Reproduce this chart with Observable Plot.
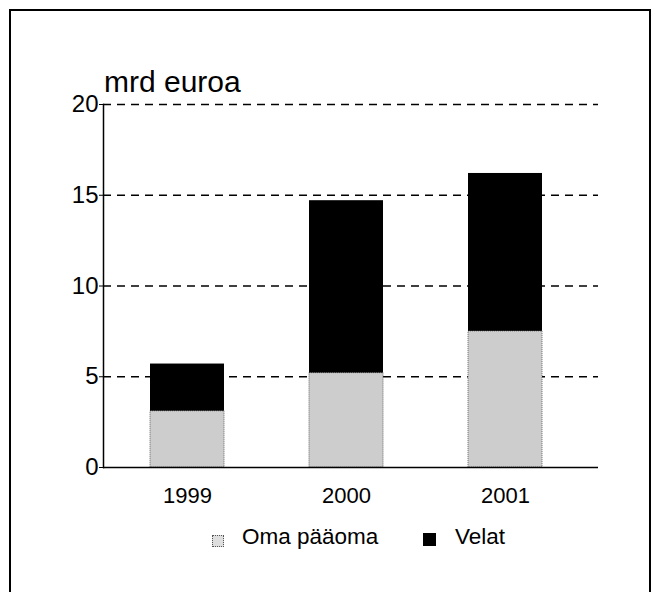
<!DOCTYPE html>
<html>
<head>
<meta charset="utf-8">
<script src="https://cdn.jsdelivr.net/npm/d3@7"></script>
<script src="https://cdn.jsdelivr.net/npm/@observablehq/plot@0.6"></script>
<style>
  html, body { margin: 0; padding: 0; background: #fff; }
  body { width: 655px; height: 592px; position: relative; overflow: hidden; font-family: "Liberation Sans", Arial, Helvetica, sans-serif; }
  #frame { position: absolute; left: 9px; top: 9px; width: 642px; height: 620px; border: 2px solid #000; box-sizing: border-box; }
  #chart { position: absolute; left: 0; top: 0; }
  .txt { position: absolute; white-space: nowrap; color: #000; line-height: 1; }
  .sw { position: absolute; box-sizing: border-box; }
</style>
</head>
<body>
<div id="frame"></div>
<div id="chart"></div>
<div class="txt" id="ylabel" style="left:104px; top:67px; font-size:30px;">mrd euroa</div>
<div class="sw" style="left:212px; top:535px; width:12px; height:12px; background:#dedede; border:1px dotted #555;"></div>
<div class="txt" style="left:242px; top:526px; font-size:22.5px;">Oma pääoma</div>
<div class="sw" style="left:423px; top:533px; width:13px; height:13px; background:#000;"></div>
<div class="txt" style="left:455px; top:526px; font-size:22.5px;">Velat</div>
<script>
const years = ["1999", "2000", "2001"];
const omaPaaoma = [3.1, 5.2, 7.5];
const velat = [2.6, 9.5, 8.7];
const yTicks = [0, 5, 10, 15, 20];
const gridTicks = [5, 10, 15, 20];

const omaRows = years.map((y, i) => ({year: y, y1: 0, y2: omaPaaoma[i]}));
const velatRows = years.map((y, i) => ({year: y, y1: omaPaaoma[i], y2: omaPaaoma[i] + velat[i]}));

const chart = Plot.plot({
  width: 655,
  height: 510,
  marginLeft: 103,
  marginRight: 57,
  marginTop: 104,
  marginBottom: 43,
  style: {fontFamily: '"Liberation Sans", Arial, Helvetica, sans-serif', color: "#000", background: "transparent", overflow: "visible"},
  x: {domain: years, paddingInner: 0.5375, paddingOuter: 0.316, align: 0.455},
  y: {domain: [0, 20]},
  marks: [
    Plot.ruleY(gridTicks, {stroke: "#000", strokeWidth: 1.5, strokeDasharray: "8,6"}),
    Plot.rectY(omaRows, {x: "year", y1: "y1", y2: "y2", fill: "#cdcdcd", stroke: "#666", strokeWidth: 1, strokeDasharray: "1,1"}),
    Plot.rectY(velatRows, {x: "year", y1: "y1", y2: "y2", fill: "#000", inset: 0}),
    Plot.frame({anchor: "left", stroke: "#000", strokeWidth: 1.5}),
    Plot.ruleY([0], {stroke: "#000", strokeWidth: 1.5}),
    Plot.axisY({ticks: yTicks, tickSize: 4, tickPadding: 1, fontSize: 24, label: null, tickFormat: d => String(d)}),
    Plot.axisX({tickSize: 0, tickPadding: 20, fontSize: 22, label: null})
  ]
});
document.getElementById("chart").appendChild(chart);
</script>
</body>
</html>
